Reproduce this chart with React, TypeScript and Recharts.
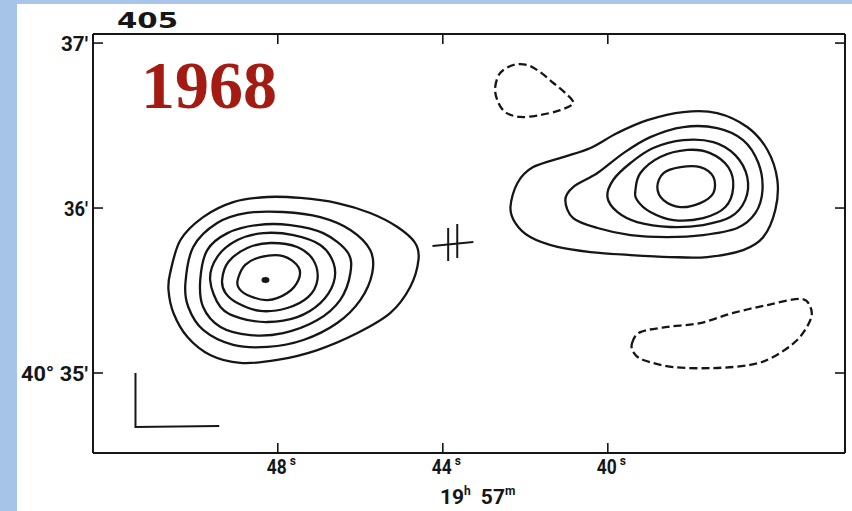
import React from 'react';
import { ComposedChart, Line, Scatter, XAxis, YAxis, ReferenceLine } from 'recharts';

type Pair = [number, number];

// axes: right ascension (seconds of 19h 57m, increasing to the left) and declination (arcmin of 40°)
const raTicks = [48, 44, 40];
const decTicks = [35, 36, 37];
const decTickLabels: Record<number, string> = { 35: '40° 35′', 36: '36′', 37: '37′' };
const decLabelWidths: Record<number, number> = { 35: 67, 36: 24, 37: 27 };
const raDomain: Pair = [34.25, 52.48];
const decDomain: Pair = [34.515, 37.055];

// western source, outermost contour first
const westA: Pair[] = [[50.61,35.606],[50.36,35.806],[49.81,35.945],[49.08,36.036],[48.25,36.067],[47.45,36.061],[46.56,36.03],[45.76,35.97],[45.1,35.885],[44.67,35.788],[44.59,35.685],[44.79,35.521],[45.27,35.364],[46.07,35.242],[47.04,35.139],[48.01,35.079],[48.91,35.061],[49.64,35.109],[50.19,35.218],[50.53,35.364],[50.65,35.503]];
const westB: Pair[] = [[50.24,35.545],[50.05,35.764],[49.47,35.909],[48.74,35.97],[47.87,35.976],[46.97,35.945],[46.24,35.867],[45.76,35.745],[45.71,35.606],[46.0,35.442],[46.56,35.303],[47.38,35.2],[48.25,35.158],[49.08,35.17],[49.81,35.261],[50.17,35.4]];
const westC: Pair[] = [[49.88,35.564],[49.71,35.745],[49.22,35.848],[48.5,35.897],[47.7,35.897],[46.9,35.848],[46.31,35.733],[46.24,35.606],[46.49,35.442],[47.04,35.321],[47.87,35.242],[48.67,35.23],[49.39,35.279],[49.81,35.4]];
const westD: Pair[] = [[49.64,35.564],[49.47,35.703],[48.98,35.806],[48.35,35.848],[47.62,35.836],[46.97,35.776],[46.65,35.667],[46.65,35.545],[46.97,35.424],[47.53,35.339],[48.25,35.309],[48.91,35.333],[49.39,35.4]];
const westE: Pair[] = [[49.35,35.564],[49.2,35.673],[48.74,35.758],[48.18,35.788],[47.53,35.764],[47.14,35.685],[47.04,35.564],[47.26,35.461],[47.77,35.394],[48.42,35.376],[48.98,35.424],[49.27,35.485]];
const westF: Pair[] = [[48.96,35.576],[48.79,35.655],[48.42,35.703],[47.87,35.709],[47.5,35.642],[47.5,35.564],[47.77,35.485],[48.25,35.442],[48.74,35.473],[48.96,35.521]];
const westPeak: Pair[] = [[48.3, 35.564]];

// eastern source
const eastA: Pair[] = [[42.36,36.006],[42.19,36.152],[41.81,36.248],[41.08,36.309],[40.42,36.364],[39.77,36.455],[39.04,36.533],[38.17,36.582],[37.35,36.576],[36.62,36.491],[36.13,36.352],[35.89,36.17],[35.94,35.988],[36.23,35.824],[36.72,35.745],[37.59,35.703],[38.49,35.703],[39.45,35.715],[40.42,35.733],[41.22,35.764],[41.88,35.824],[42.24,35.909]];
const eastB: Pair[] = [[41.03,36.048],[40.84,36.127],[40.25,36.212],[39.62,36.333],[38.97,36.43],[38.17,36.491],[37.35,36.485],[36.72,36.412],[36.35,36.273],[36.25,36.109],[36.42,35.97],[36.86,35.879],[37.69,35.836],[38.56,35.824],[39.45,35.836],[40.25,35.879],[40.84,35.939]];
const eastC: Pair[] = [[40.01,36.067],[39.87,36.17],[39.45,36.273],[38.9,36.364],[38.17,36.412],[37.44,36.4],[36.91,36.321],[36.62,36.188],[36.67,36.048],[37.03,35.945],[37.69,35.897],[38.49,35.885],[39.29,35.915],[39.77,35.976]];
const eastD: Pair[] = [[39.33,36.109],[39.21,36.212],[38.73,36.309],[38.07,36.352],[37.52,36.333],[37.08,36.248],[36.96,36.127],[37.15,36.006],[37.69,35.939],[38.41,35.927],[38.97,35.976],[39.29,36.048]];
const eastE: Pair[] = [[38.8,36.127],[38.65,36.212],[38.24,36.248],[37.76,36.248],[37.44,36.188],[37.44,36.091],[37.76,36.03],[38.24,36.006],[38.65,36.048]];

// negative (dashed) contours
const negNorth: Pair[] = [[42.73,36.733],[42.61,36.818],[42.29,36.867],[41.95,36.867],[41.64,36.824],[41.32,36.758],[41.03,36.697],[40.84,36.636],[41.15,36.594],[41.64,36.564],[42.12,36.552],[42.49,36.582],[42.68,36.655]];
const negSouth: Pair[] = [[39.41,35.182],[39.21,35.248],[38.56,35.279],[37.76,35.303],[36.96,35.364],[36.13,35.412],[35.33,35.449],[35.09,35.4],[35.09,35.321],[35.41,35.2],[35.99,35.097],[36.55,35.049],[37.44,35.03],[38.41,35.036],[39.14,35.079],[39.38,35.127]];

// optical position cross and the scale bar
const crossBar: Pair[] = [[44.25,35.77],[43.26,35.794]];
const crossPostA: Pair[] = [[43.87,35.879],[43.87,35.679]];
const crossPostB: Pair[] = [[43.65,35.903],[43.65,35.697]];
const scaleBar: Pair[] = [[51.45,35.0],[51.45,34.673],[49.42,34.679]];

const positive = [westA, westB, westC, westD, westE, westF, eastA, eastB, eastC, eastD, eastE];
const negative = [negNorth, negSouth];
const strokes = [crossBar, crossPostA, crossPostB, scaleBar];

const INK = '#161616';
const W = 852;
const H = 511;
const PLOT = { left: 93, top: 34, right: 845, bottom: 453 };
const PLOT_W = PLOT.right - PLOT.left;
const PLOT_H = PLOT.bottom - PLOT.top;
const Y_AXIS_W = 60;
const X_AXIS_H = 40;
const TICK = 10;
const LABEL_FONT = 'Roboto, "DejaVu Sans", sans-serif';
const LABEL_SIZE = 21;

const toPts = (arr: Pair[]) => arr.map(([ra, dec]) => ({ ra, dec }));

// closed Catmull-Rom spline, in the d3 curve-factory shape that recharts accepts as a line type
const closedSpline = (context: any) => {
  let pts: Pair[] = [];
  return {
    areaStart() {},
    areaEnd() {},
    lineStart() { pts = []; },
    point(x: number, y: number) { pts.push([x, y]); },
    lineEnd() {
      const n = pts.length;
      if (!n) return;
      context.moveTo(pts[0][0], pts[0][1]);
      for (let i = 0; i < n; i++) {
        const p0 = pts[(i - 1 + n) % n];
        const p1 = pts[i];
        const p2 = pts[(i + 1) % n];
        const p3 = pts[(i + 2) % n];
        context.bezierCurveTo(
          p1[0] + (p2[0] - p0[0]) / 6, p1[1] + (p2[1] - p0[1]) / 6,
          p2[0] - (p3[0] - p1[0]) / 6, p2[1] - (p3[1] - p1[1]) / 6,
          p2[0], p2[1],
        );
      }
      context.closePath();
    },
  };
};

// seconds label with a small raised "s" just right of the digits
function RaTick({ x, y, payload }: any) {
  return (
    <g>
      <line x1={x} y1={y} x2={x} y2={y - TICK} stroke={INK} strokeWidth={1.6} />
      <line x1={x} y1={y - PLOT_H} x2={x} y2={y - PLOT_H + TICK} stroke={INK} strokeWidth={1.6} />
      <text x={x - 11} y={y + 21} fontFamily={LABEL_FONT} fontWeight={700} fontSize={LABEL_SIZE} fill={INK} textLength={20} lengthAdjust="spacingAndGlyphs">
        {payload.value}
      </text>
      <text x={x + 12} y={y + 12} fontFamily={LABEL_FONT} fontWeight={700} fontSize={12} fill={INK}>s</text>
    </g>
  );
}

function DecTick({ x, y, payload }: any) {
  const w = decLabelWidths[payload.value];
  return (
    <g>
      <line x1={x} y1={y} x2={x + TICK} y2={y} stroke={INK} strokeWidth={1.6} />
      <line x1={x + PLOT_W} y1={y} x2={x + PLOT_W - TICK} y2={y} stroke={INK} strokeWidth={1.6} />
      <text x={x - 5 - w} y={y + 8} fontFamily={LABEL_FONT} fontWeight={700} fontSize={LABEL_SIZE} fill={INK} textLength={w} lengthAdjust="spacingAndGlyphs">
        {decTickLabels[payload.value]}
      </text>
    </g>
  );
}

export default function App() {
  return (
    <div style={{ position: 'absolute', left: 0, top: 0, width: W, height: H, background: '#ffffff', overflow: 'hidden' }}>
      <div style={{ position: 'absolute', left: 0, top: 0, width: W, height: 4, background: '#a9c6ea' }} />
      <div style={{ position: 'absolute', left: 0, top: 0, width: 17, height: H, background: '#a6c3e8' }} />
      <div style={{ position: 'absolute', left: 0, top: 0 }}>
        <ComposedChart
          width={W}
          height={H}
          margin={{ top: PLOT.top, right: W - PLOT.right, left: PLOT.left - Y_AXIS_W, bottom: H - PLOT.bottom - X_AXIS_H }}
        >
          <XAxis
            type="number"
            dataKey="ra"
            domain={raDomain}
            reversed
            allowDataOverflow
            ticks={raTicks}
            interval={0}
            height={X_AXIS_H}
            tickSize={0}
            tickMargin={0}
            tickLine={false}
            axisLine={{ stroke: INK, strokeWidth: 2 }}
            tick={<RaTick />}
          />
          <YAxis
            type="number"
            dataKey="dec"
            domain={decDomain}
            allowDataOverflow
            ticks={decTicks}
            interval={0}
            width={Y_AXIS_W}
            tickSize={0}
            tickMargin={0}
            tickLine={false}
            axisLine={{ stroke: INK, strokeWidth: 2 }}
            tick={<DecTick />}
          />
          <ReferenceLine y={decDomain[1]} stroke={INK} strokeWidth={2} ifOverflow="visible" />
          <ReferenceLine x={raDomain[0]} stroke={INK} strokeWidth={2} ifOverflow="visible" />
          {positive.map((c, i) => (
            <Line
              key={`p${i}`}
              data={toPts(c)}
              dataKey="dec"
              type={closedSpline as any}
              stroke={INK}
              strokeWidth={2.3}
              dot={false}
              activeDot={false}
              isAnimationActive={false}
            />
          ))}
          {negative.map((c, i) => (
            <Line
              key={`n${i}`}
              data={toPts(c)}
              dataKey="dec"
              type={closedSpline as any}
              stroke={INK}
              strokeWidth={2.3}
              strokeDasharray="8 4"
              dot={false}
              activeDot={false}
              isAnimationActive={false}
            />
          ))}
          {strokes.map((c, i) => (
            <Line
              key={`s${i}`}
              data={toPts(c)}
              dataKey="dec"
              type="linear"
              stroke={INK}
              strokeWidth={2}
              dot={false}
              activeDot={false}
              isAnimationActive={false}
            />
          ))}
          <Scatter
            data={toPts(westPeak)}
            dataKey="dec"
            isAnimationActive={false}
            shape={(p: any) => <ellipse cx={p.cx} cy={p.cy} rx={4} ry={3} fill={INK} />}
          />
        </ComposedChart>
      </div>
      <svg width={W} height={H} style={{ position: 'absolute', left: 0, top: 0, pointerEvents: 'none' }}>
        <text x={117} y={28} fontFamily='"DejaVu Sans", sans-serif' fontWeight={700} fontSize={21} fill={INK} textLength={61} lengthAdjust="spacingAndGlyphs">
          405
        </text>
        <text x={141} y={108} fontFamily='"Liberation Serif", serif' fontWeight={700} fontSize={68} fill="#a31b12">
          1968
        </text>
        <text x={440} y={504} fontFamily={LABEL_FONT} fontWeight={700} fontSize={LABEL_SIZE} fill={INK}>
          19
          <tspan fontSize={12} dy={-9}>h</tspan>
          <tspan fontSize={LABEL_SIZE} dy={9} dx={10}>57</tspan>
          <tspan fontSize={12} dy={-9}>m</tspan>
        </text>
      </svg>
    </div>
  );
}
